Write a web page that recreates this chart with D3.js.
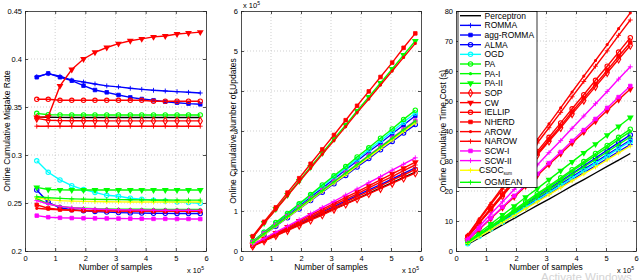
<!DOCTYPE html>
<html>
<head>
<meta charset="utf-8">
<script src="https://cdnjs.cloudflare.com/ajax/libs/d3/7.8.5/d3.min.js"></script>
<style>
body { margin: 0; background: #fff; }
svg { display: block; font-family: "Liberation Sans", Arial, sans-serif; }
.axis text { font-size: 7.5px; fill: #000; }
.axis path, .axis line { stroke: #222; stroke-width: 0.8; }
.grid line { stroke: #bbb; stroke-width: 0.7; stroke-dasharray: 1,2; }
</style>
</head>
<body>
<svg id="chart" width="640" height="280"></svg>
<script>
// number of samples (x 10^5)
var samples = [0.39, 0.77, 1.16, 1.55, 1.94, 2.32, 2.71, 3.10, 3.49, 3.87, 4.26, 4.65, 5.04, 5.42, 5.81];

var algorithms = ["Perceptron", "ROMMA", "agg-ROMMA", "ALMA", "OGD", "PA", "PA-I", "PA-II", "SOP", "CW",
  "IELLIP", "NHERD", "AROW", "NAROW", "SCW-I", "SCW-II", "CSOC", "OGMEAN"];

// one row per algorithm, same order as above
var mistakeRate = [
  [0.3395,0.3393,0.3392,0.3391,0.339,0.339,0.339,0.339,0.339,0.339,0.339,0.339,0.339,0.339,0.339],
  [0.3816,0.3847,0.382,0.378,0.376,0.374,0.372,0.371,0.3695,0.3684,0.3674,0.3667,0.366,0.3653,0.3646],
  [0.381,0.385,0.381,0.3774,0.3722,0.3677,0.3653,0.3625,0.360,0.3583,0.357,0.3555,0.3545,0.3535,0.3528],
  [0.2635,0.2507,0.245,0.243,0.242,0.2412,0.2405,0.240,0.2397,0.2395,0.2393,0.2392,0.239,0.239,0.239],
  [0.294,0.282,0.274,0.268,0.264,0.261,0.258,0.257,0.255,0.254,0.253,0.252,0.251,0.2505,0.2497],
  [0.3434,0.342,0.3418,0.3417,0.3417,0.3417,0.3417,0.3417,0.3417,0.3417,0.3417,0.3417,0.3417,0.3417,0.3417],
  [0.2545,0.249,0.2465,0.245,0.2445,0.244,0.2438,0.2436,0.2435,0.2435,0.2434,0.2434,0.2433,0.2433,0.2433],
  [0.2663,0.264,0.2637,0.2635,0.2635,0.2635,0.2635,0.2635,0.2635,0.2635,0.2635,0.2635,0.2635,0.2635,0.2635],
  [0.3382,0.3362,0.3358,0.3357,0.3356,0.3356,0.3355,0.3355,0.3355,0.3355,0.3355,0.3355,0.3355,0.3355,0.3355],
  [0.339,0.340,0.372,0.389,0.400,0.407,0.412,0.416,0.419,0.421,0.423,0.424,0.426,0.427,0.428],
  [0.358,0.358,0.357,0.357,0.357,0.357,0.357,0.357,0.357,0.357,0.356,0.356,0.356,0.356,0.356],
  [0.248,0.2445,0.2432,0.2425,0.2422,0.242,0.2418,0.2417,0.2416,0.2415,0.2415,0.2415,0.2414,0.2414,0.2414],
  [0.2445,0.2435,0.2428,0.2424,0.2421,0.242,0.2419,0.2418,0.2417,0.2417,0.2416,0.2416,0.2416,0.2416,0.2416],
  [0.330,0.330,0.330,0.330,0.330,0.330,0.330,0.330,0.330,0.330,0.330,0.330,0.330,0.330,0.330],
  [0.2368,0.2352,0.2346,0.2343,0.2341,0.234,0.2339,0.2338,0.2337,0.2336,0.2335,0.2335,0.2334,0.2334,0.2333],
  [0.2525,0.249,0.2465,0.245,0.2442,0.2437,0.2433,0.243,0.2428,0.2427,0.2426,0.2425,0.2424,0.2424,0.2423],
  [0.2555,0.2535,0.2525,0.252,0.2517,0.2515,0.2513,0.2512,0.2511,0.251,0.251,0.251,0.251,0.251,0.251],
  [0.2565,0.2555,0.2548,0.2543,0.254,0.2538,0.2536,0.2535,0.2534,0.2533,0.2532,0.2531,0.253,0.253,0.253]
];

// x 10^5
var updates = [
  [0.13,0.26,0.39,0.52,0.66,0.79,0.92,1.05,1.18,1.31,1.44,1.58,1.71,1.84,1.97],
  [0.14,0.28,0.42,0.56,0.69,0.83,0.97,1.11,1.25,1.39,1.53,1.66,1.80,1.94,2.08],
  [0.22,0.45,0.67,0.90,1.12,1.35,1.57,1.80,2.03,2.25,2.48,2.70,2.93,3.15,3.38],
  [0.20,0.41,0.62,0.83,1.05,1.26,1.47,1.68,1.89,2.10,2.31,2.53,2.74,2.95,3.16],
  [0.24,0.47,0.70,0.93,1.16,1.39,1.62,1.85,2.07,2.30,2.53,2.76,2.99,3.22,3.45],
  [0.24,0.47,0.71,0.94,1.18,1.41,1.65,1.88,2.11,2.35,2.58,2.82,3.05,3.29,3.52],
  [0.21,0.43,0.64,0.86,1.07,1.29,1.50,1.72,1.93,2.15,2.36,2.58,2.79,3.01,3.22],
  [0.35,0.70,1.05,1.40,1.75,2.10,2.45,2.80,3.15,3.50,3.85,4.20,4.55,4.90,5.25],
  [0.12,0.25,0.38,0.51,0.64,0.77,0.90,1.04,1.17,1.30,1.43,1.56,1.69,1.82,1.95],
  [0.16,0.31,0.45,0.60,0.75,0.90,1.04,1.19,1.34,1.48,1.63,1.78,1.93,2.07,2.22],
  [0.13,0.27,0.40,0.54,0.68,0.81,0.95,1.08,1.22,1.36,1.49,1.63,1.77,1.90,2.04],
  [0.37,0.73,1.09,1.46,1.82,2.18,2.54,2.90,3.27,3.63,3.99,4.35,4.71,5.08,5.44],
  [0.34,0.69,1.03,1.38,1.73,2.07,2.42,2.76,3.11,3.46,3.80,4.15,4.50,4.84,5.19],
  [0.14,0.28,0.43,0.57,0.72,0.86,1.00,1.15,1.29,1.43,1.58,1.72,1.86,2.01,2.15],
  [0.22,0.44,0.65,0.87,1.09,1.31,1.52,1.74,1.96,2.17,2.39,2.61,2.83,3.04,3.26],
  [0.16,0.31,0.47,0.62,0.78,0.93,1.09,1.24,1.40,1.55,1.71,1.86,2.02,2.17,2.33],
  [0.20,0.41,0.63,0.84,1.06,1.27,1.49,1.70,1.91,2.13,2.34,2.56,2.77,2.99,3.20],
  [0.21,0.43,0.64,0.86,1.08,1.30,1.51,1.73,1.95,2.16,2.38,2.60,2.82,3.03,3.25]
];

// seconds
var timeCost = [
  [2.2,4.4,6.5,8.7,10.9,13.0,15.2,17.3,19.5,21.7,23.8,26.0,28.2,30.3,32.5],
  [2.5,4.9,7.2,9.6,11.9,14.3,16.6,19.0,21.4,23.7,26.1,28.4,30.8,33.1,35.5],
  [2.6,5.1,7.5,10.0,12.4,14.9,17.3,19.8,22.3,24.7,27.2,29.6,32.1,34.5,37.0],
  [2.7,5.3,7.8,10.4,13.0,15.6,18.1,20.7,23.3,25.8,28.4,31.0,33.6,36.1,38.7],
  [2.4,4.8,7.3,9.7,12.1,14.6,17.0,19.5,21.9,24.3,26.8,29.2,31.6,34.1,36.5],
  [2.9,5.6,8.3,11.0,13.7,16.4,19.1,21.7,24.4,27.1,29.8,32.5,35.2,37.9,40.6],
  [2.8,5.4,8.1,10.7,13.4,16.0,18.7,21.3,23.9,26.6,29.2,31.9,34.5,37.2,39.8],
  [3.1,6.1,9.0,12.0,14.9,17.9,20.8,23.8,26.8,29.7,32.7,35.6,38.6,41.5,44.5],
  [4.6,9.2,13.7,18.3,22.9,27.4,32.0,36.6,41.1,45.7,50.2,54.8,59.4,63.9,68.5],
  [3.6,7.2,10.8,14.4,18.0,21.6,25.2,28.8,32.4,36.0,39.6,43.2,46.8,50.4,54.0],
  [4.8,9.5,14.3,19.0,23.7,28.5,33.2,37.9,42.7,47.4,52.1,56.9,61.6,66.3,71.1],
  [4.7,9.3,13.9,18.6,23.2,27.8,32.5,37.1,41.7,46.4,51.0,55.6,60.2,64.9,69.5],
  [5.4,10.7,16.0,21.3,26.5,31.8,37.1,42.4,47.7,53.0,58.3,63.5,68.8,74.1,79.4],
  [5.2,10.3,15.5,20.6,25.7,30.8,36.0,41.1,46.2,51.4,56.5,61.6,66.7,71.9,77.0],
  [3.7,7.4,11.0,14.7,18.4,22.0,25.7,29.3,33.0,36.7,40.3,44.0,47.7,51.3,55.0],
  [4.1,8.2,12.3,16.4,20.5,24.6,28.7,32.8,36.8,40.9,45.0,49.1,53.2,57.3,61.4],
  [2.5,4.8,7.1,9.5,11.8,14.1,16.4,18.8,21.1,23.4,25.7,28.0,30.4,32.7,35.0],
  [2.8,5.3,7.8,10.3,12.9,15.4,17.9,20.4,22.9,25.5,28.0,30.5,33.0,35.5,38.0]
];

var xTicks = [0, 1, 2, 3, 4, 5, 6];
var rateTicks = [0.2, 0.25, 0.3, 0.35, 0.4, 0.45];
var updateTicks = [0, 1, 2, 3, 4, 5, 6];
var timeTicks = [0, 10, 20, 30, 40, 50, 60, 70, 80];

// line colour and marker per algorithm (MATLAB style)
var colors = ["#000000", "#0000ff", "#0000ff", "#0000ff", "#00ffff", "#00ff00", "#00ff00", "#00ff00", "#ff0000",
  "#ff0000", "#ff0000", "#ff0000", "#ff0000", "#ff0000", "#ff00ff", "#ff00ff", "#ffff00", "#00ff00"];
var markers = ["none", "plus", "square", "circle", "circle", "circle", "dot", "tri", "diamond",
  "tri", "circle", "square", "dot", "plus", "square", "plus", "plus", "plus"];

var svg = d3.select("#chart");
var plotTop = 11, plotBottom = 251;

var panels = [
  { data: mistakeRate, left: 25, right: 206, domain: [0.2, 0.45], ticks: rateTicks,
    label: "Online Cumulative Mistake Rate", labelX: 9.5 },
  { data: updates, left: 241, right: 421, domain: [0, 6], ticks: updateTicks,
    label: "Online Cumulative Number of Updates", labelX: 236, yExp: true },
  { data: timeCost, left: 456, right: 636, domain: [0, 80], ticks: timeTicks,
    label: "Online Cumulative Time Cost (s)", labelX: 446, legend: true }
];

var plusType = d3.symbolPlus || d3.symbolCross;

function drawMarker(g, type, color) {
  if (type == "none") return;
  if (type == "plus") {
    g.append("path").attr("d", d3.symbol(plusType, 9)()).attr("fill", "none").attr("stroke", color).attr("stroke-width", 0.9);
  } else if (type == "square") {
    g.append("path").attr("d", d3.symbol(d3.symbolSquare, 13)()).attr("fill", color).attr("stroke", color).attr("stroke-width", 0.8);
  } else if (type == "circle") {
    g.append("path").attr("d", d3.symbol(d3.symbolCircle, 15)()).attr("fill", "none").attr("stroke", color).attr("stroke-width", 1.1);
  } else if (type == "dot") {
    g.append("path").attr("d", d3.symbol(d3.symbolCircle, 8)()).attr("fill", color);
  } else if (type == "tri") {
    g.append("path").attr("d", d3.symbol(d3.symbolTriangle, 20)()).attr("fill", color)
      .attr("transform", "rotate(180)");
  } else if (type == "diamond") {
    g.append("path").attr("d", d3.symbol(d3.symbolDiamond, 16)()).attr("fill", "none").attr("stroke", color).attr("stroke-width", 1.1);
  }
}

function addExponent(x, y) {
  var t = svg.append("text").attr("x", x).attr("y", y).attr("font-size", 7.5).attr("text-anchor", "start");
  t.append("tspan").text("x 10");
  t.append("tspan").attr("font-size", 5).attr("dy", -3).text("5");
}

panels.forEach(function(p) {
  var x = d3.scaleLinear().domain([0, 6]).range([p.left, p.right]);
  var y = d3.scaleLinear().domain(p.domain).range([plotBottom, plotTop]);

  // dotted grid
  var grid = svg.append("g").attr("class", "grid");
  grid.selectAll(".gx").data(xTicks.slice(1, -1)).enter().append("line")
    .attr("x1", function(d) { return x(d); }).attr("x2", function(d) { return x(d); })
    .attr("y1", plotTop).attr("y2", plotBottom);
  grid.selectAll(".gy").data(p.ticks.slice(1, -1)).enter().append("line")
    .attr("y1", function(d) { return y(d); }).attr("y2", function(d) { return y(d); })
    .attr("x1", p.left).attr("x2", p.right);

  // series
  var line = d3.line()
    .x(function(d, i) { return x(samples[i]); })
    .y(function(d) { return y(d); });

  p.data.forEach(function(vals, k) {
    svg.append("path").datum(vals)
      .attr("d", line)
      .attr("fill", "none")
      .attr("stroke", colors[k])
      .attr("stroke-width", 1.4);
    vals.forEach(function(v, i) {
      var g = svg.append("g").attr("transform", "translate(" + x(samples[i]) + "," + y(v) + ")");
      drawMarker(g, markers[k], colors[k]);
    });
  });

  // axes with inward ticks on all four sides
  svg.append("g").attr("class", "axis")
    .attr("transform", "translate(0," + plotBottom + ")")
    .call(d3.axisBottom(x).tickValues(xTicks).tickSize(-3).tickSizeOuter(0).tickPadding(5).tickFormat(d3.format("d")));
  svg.append("g").attr("class", "axis")
    .attr("transform", "translate(0," + plotTop + ")")
    .call(d3.axisTop(x).tickValues(xTicks).tickSize(-3).tickSizeOuter(0).tickFormat(""));
  svg.append("g").attr("class", "axis")
    .attr("transform", "translate(" + p.left + ",0)")
    .call(d3.axisLeft(y).tickValues(p.ticks).tickSize(-3).tickSizeOuter(0).tickPadding(3).tickFormat(function(d) { return String(d); }));
  svg.append("g").attr("class", "axis")
    .attr("transform", "translate(" + p.right + ",0)")
    .call(d3.axisRight(y).tickValues(p.ticks).tickSize(-3).tickSizeOuter(0).tickFormat(""));

  // labels
  svg.append("text")
    .attr("transform", "translate(" + p.labelX + "," + ((plotTop + plotBottom) / 2) + ") rotate(-90)")
    .attr("text-anchor", "middle")
    .attr("font-size", 8.5)
    .text(p.label);
  svg.append("text")
    .attr("x", (p.left + p.right) / 2).attr("y", 270)
    .attr("text-anchor", "middle")
    .attr("font-size", 8.5)
    .text("Number of samples");
  addExponent(p.right - 19, 273);
  if (p.yExp) addExponent(p.left + 2, 8);

  if (p.legend) {
    var lg = svg.append("g");
    lg.append("rect").attr("x", 458).attr("y", 11.5).attr("width", 79).attr("height", 176)
      .attr("fill", "#fff").attr("stroke", "#000").attr("stroke-width", 0.8);
    algorithms.forEach(function(name, k) {
      var ly = k < 17 ? 15.7 + k * 9.66 : 182.3;
      lg.append("line").attr("x1", 460).attr("x2", 481).attr("y1", ly).attr("y2", ly)
        .attr("stroke", colors[k]).attr("stroke-width", 1.4);
      var g = lg.append("g").attr("transform", "translate(470.5," + ly + ")");
      drawMarker(g, markers[k], colors[k]);
      var t = lg.append("text").attr("x", name == "CSOC" ? 479 : 484.5).attr("y", ly + 3).attr("font-size", 8.5);
      t.append("tspan").text(name);
      if (name == "CSOC") t.append("tspan").attr("font-size", 4.5).attr("dy", 1.5).text("sum");
    });
  }
});

// watermark that sits on the source screenshot
svg.append("text").attr("x", 541).attr("y", 281).attr("font-size", 11.5).attr("fill", "#d4d4d4").text("Activate Windows");
</script>
</body>
</html>
